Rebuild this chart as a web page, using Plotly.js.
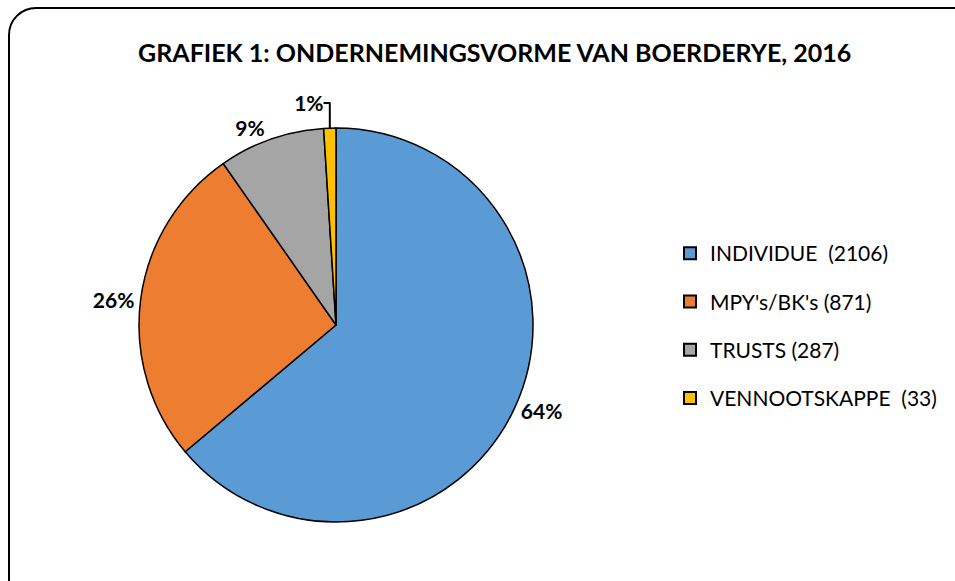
<!DOCTYPE html>
<html>
<head>
<meta charset="utf-8">
<script src="https://cdn.plot.ly/plotly-3.0.1.min.js"></script>
<style>
  html, body { margin: 0; padding: 0; background: #fff; }
  #wrap { position: relative; width: 955px; height: 581px; overflow: hidden; }
  #frame { position: absolute; left: 8px; top: 7px; width: 980px; height: 600px;
           border: 2px solid #000; border-radius: 28px; box-sizing: border-box; }
  #chart { position: absolute; left: 0; top: 0; width: 955px; height: 581px; }
</style>
</head>
<body>
<div id="wrap">
  <div id="frame"></div>
  <div id="chart"></div>
</div>
<script>
const categories = ["INDIVIDUE", "MPY's/BK's", "TRUSTS", "VENNOOTSKAPPE"];
const values = [2106, 871, 287, 33];
const legendLabels = ["INDIVIDUE  (2106)", "MPY's/BK's (871)", "TRUSTS (287)", "VENNOOTSKAPPE  (33)"];
const colors = ["#5B9BD5", "#ED7D31", "#A5A5A5", "#FFC000"];
const chartTitle = "GRAFIEK 1: ONDERNEMINGSVORME VAN BOERDERYE, 2016";

const W = 955, H = 581;
const cx = 336, cy = 325, R = 197;
const FONT = "Lato, 'Open Sans', sans-serif";

const pie = {
  type: "pie",
  labels: categories,
  values: values,
  sort: false,
  direction: "clockwise",
  rotation: 0,
  marker: { colors: colors, line: { color: "#000", width: 1.5 } },
  textposition: "outside",
  texttemplate: "%{percent:.0%}",
  textfont: { family: FONT, size: 21, color: "#000", weight: "bold" },
  showlegend: false,
  hoverinfo: "label+value+percent",
  domain: { x: [(cx - R) / W, (cx + R) / W], y: [1 - (cy + R) / H, 1 - (cy - R) / H] },
  automargin: false
};

const legendTraces = categories.map((c, i) => ({
  type: "scatter",
  mode: "markers",
  x: [null], y: [null],
  name: legendLabels[i],
  legendgroup: "g" + i,
  marker: { symbol: "square", size: 14, color: colors[i], line: { color: "#000", width: 1.5 } },
  showlegend: true,
  hoverinfo: "skip"
}));

const layout = {
  width: W, height: H,
  margin: { l: 0, r: 0, t: 0, b: 0 },
  paper_bgcolor: "rgba(0,0,0,0)",
  plot_bgcolor: "rgba(0,0,0,0)",
  title: {
    text: "<b>" + chartTitle + "</b>",
    font: { family: FONT, size: 25, color: "#000" },
    x: 0.518, xanchor: "center", y: 1 - 53 / H, yanchor: "middle"
  },
  xaxis: { visible: false }, yaxis: { visible: false },
  showlegend: true,
  legend: {
    x: 670 / W, xanchor: "left", y: 1 - 233 / H, yanchor: "top",
    font: { family: FONT, size: 21, color: "#000" },
    tracegroupgap: 18,
    itemsizing: "constant",
    bgcolor: "rgba(0,0,0,0)"
  }
};

Plotly.newPlot("chart", [pie].concat(legendTraces), layout, { displayModeBar: false, staticPlot: true });
</script>
</body>
</html>
